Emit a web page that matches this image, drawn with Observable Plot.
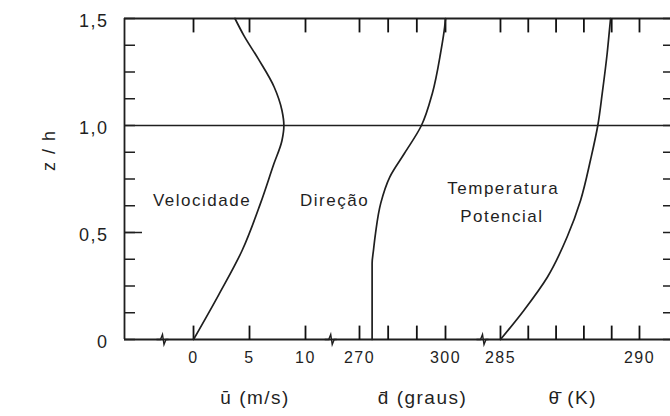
<!DOCTYPE html>
<html><head><meta charset="utf-8">
<script src="https://cdn.jsdelivr.net/npm/d3@7"></script>
<script src="https://cdn.jsdelivr.net/npm/@observablehq/plot@0.6"></script>
<style>
body{margin:0;background:#fff;}
#chart svg text{letter-spacing:1.5px;}
</style></head><body><div id="chart"></div>
<script>
// ---------- data ----------
const zVelocity = [0, 0.21, 0.417, 0.636, 0.82, 0.93, 1.0, 1.07, 1.18, 1.31, 1.42, 1.5];
const uVelocity = [0, 2.26, 4.35, 5.98, 7.17, 7.9, 8.07, 7.9, 7.2, 5.8, 4.5, 3.7];
const zDirection = [0, 0.355, 0.42, 0.497, 0.636, 0.76, 0.87, 1.0, 1.15, 1.34, 1.46, 1.5];
const dDirection = [274.4, 274.4, 274.9, 275.6, 277.4, 280.6, 285.7, 291.6, 295.4, 298.3, 299.7, 300];
const zTemperature = [0, 0.136, 0.29, 0.48, 0.65, 0.84, 1.0, 1.15, 1.34, 1.46, 1.5];
const thetaTemperature = [285.0, 285.84, 286.68, 287.4, 287.88, 288.24, 288.5, 288.66, 288.84, 288.93, 288.96];

const velocityTicks = [0, 5, 10];
const velocityTickLabels = ["0", "5", "10"];
const directionTicks = [270, 280, 290, 300];
const directionTickLabels = ["270", "", "", "300"];
const temperatureTicks = [285, 286, 287, 288, 289, 290];
const temperatureTickLabels = ["285", "", "", "", "", "290"];
const zTicks = [0, 0.125, 0.25, 0.375, 0.5, 0.625, 0.75, 0.875, 1, 1.125, 1.25, 1.375, 1.5];
const zMajorTicks = [0, 0.5, 1, 1.5];
const zTickLabels = ["0", "0,5", "1,0", "1,5"];
const boundaryLayerTop = [1];
const axisTitles = ["ū (m/s)", "d\u0304 (graus)", "θ\u0304 (K)"];
const curveLabels = ["Velocidade", "Direção", "Temperatura", "Potencial"];
const yTitle = "z / h";

// ---------- layout (broken x axis: each panel occupies a slice of the frame) ----------
const panels = {
  velocity:    {domain: [0, 10],    range: [0.1264, 0.3315]},
  direction:   {domain: [270, 300], range: [0.4304, 0.5879]},
  temperature: {domain: [285, 290], range: [0.6886, 0.9432]}
};
const toX = (p, v) => p.range[0] + (v - p.domain[0]) / (p.domain[1] - p.domain[0]) * (p.range[1] - p.range[0]);
const breakPositions = [0.0696, 0.3777, 0.6557];
const tickLengthZ = 0.065; // length of the inward x ticks, in z/h units
const curveLabelPlace = [
  {panel: "velocity", v: 0.76, z: 0.65},
  {panel: "direction", v: 261.3, z: 0.65},
  {panel: "temperature", v: 285.1, z: 0.705},
  {panel: "temperature", v: 285.05, z: 0.575}
];
const axisTitlePlace = [
  {panel: "velocity", v: 5.5},
  {panel: "direction", v: 292},
  {panel: "temperature", v: 287.6}
];

const ink = "#1f1f1f";
const font = "Liberation Sans, Arial, sans-serif";

// ---------- derived tables ----------
const series = [
  {p: panels.velocity, z: zVelocity, v: uVelocity},
  {p: panels.direction, z: zDirection, v: dDirection},
  {p: panels.temperature, z: zTemperature, v: thetaTemperature}
];
const lines = series.flatMap((s, k) => s.z.map((z, i) => ({k, z, x: toX(s.p, s.v[i])})));
const bottomTicks = [
  ...velocityTicks.map((t, i) => ({x: toX(panels.velocity, t), label: velocityTickLabels[i]})),
  ...directionTicks.map((t, i) => ({x: toX(panels.direction, t), label: directionTickLabels[i]})),
  ...temperatureTicks.map((t, i) => ({x: toX(panels.temperature, t), label: temperatureTickLabels[i]}))
];
const tickRows = bottomTicks.flatMap(d => [
  {x: d.x, y1: 0, y2: tickLengthZ},
  {x: d.x, y1: 1.5 - tickLengthZ, y2: 1.5}
]);
const labelRows = curveLabels.map((text, i) => ({text, x: toX(panels[curveLabelPlace[i].panel], curveLabelPlace[i].v), z: curveLabelPlace[i].z}));
const titleRows = axisTitles.map((text, i) => ({text, x: toX(panels[axisTitlePlace[i].panel], axisTitlePlace[i].v)}));

const zigzag = {draw(ctx) { ctx.moveTo(-6, 0); ctx.lineTo(-2, 0); ctx.lineTo(0, -5); ctx.lineTo(1.5, 5); ctx.lineTo(3.5, 0); ctx.lineTo(6, 0); }};
const tickOpts = {tickFormat: () => "", label: null, stroke: ink, strokeWidth: 1.5};

const chart = Plot.plot({
  width: 670,
  height: 416,
  marginLeft: 124,
  marginRight: 0,
  marginTop: 18,
  marginBottom: 77,
  style: {fontFamily: font, background: "#fff", color: ink},
  x: {domain: [0, 1], label: null, axis: null},
  y: {domain: [0, 1.5], label: null},
  marks: [
    Plot.ruleY([0, 1.5], {stroke: ink, strokeWidth: 1.8}),
    Plot.ruleY(boundaryLayerTop, {stroke: ink, strokeWidth: 1.6}),
    Plot.ruleX([0], {stroke: ink, strokeWidth: 1.8}),
    Plot.link(tickRows, {x1: "x", x2: "x", y1: "y1", y2: "y2", stroke: "#111", strokeWidth: 1.8}),
    Plot.axisY(zTicks, {anchor: "left", tickSize: -11, ...tickOpts}),
    Plot.axisY([0.5], {anchor: "left", tickSize: -18, ...tickOpts}),
    Plot.axisY(zTicks, {anchor: "right", tickSize: -8, ...tickOpts}),
    Plot.dot(breakPositions, {x: d => d, frameAnchor: "bottom", symbol: zigzag, stroke: ink, fill: "none", strokeWidth: 1.4}),
    Plot.line(lines, {x: "x", y: "z", z: "k", curve: "monotone-y", stroke: ink, strokeWidth: 1.7}),
    Plot.text(zMajorTicks, {y: d => d, text: (d, i) => zTickLabels[i], frameAnchor: "left", dx: -16, dy: 3, textAnchor: "end", fontSize: 18, fill: ink}),
    Plot.text(bottomTicks.filter(d => d.label), {x: "x", text: "label", frameAnchor: "bottom", dy: 23, fontSize: 16, fill: ink}),
    Plot.text(titleRows, {x: "x", text: "text", frameAnchor: "bottom", dy: 64, fontSize: 19, fill: ink}),
    Plot.text(labelRows, {x: "x", y: "z", text: "text", fontSize: 17, fill: ink}),
    Plot.text([yTitle], {text: d => d, frameAnchor: "left", dx: -75, dy: -8, rotate: -90, fontSize: 18, fill: ink})
  ]
});
document.getElementById("chart").appendChild(chart);
</script></body></html>
